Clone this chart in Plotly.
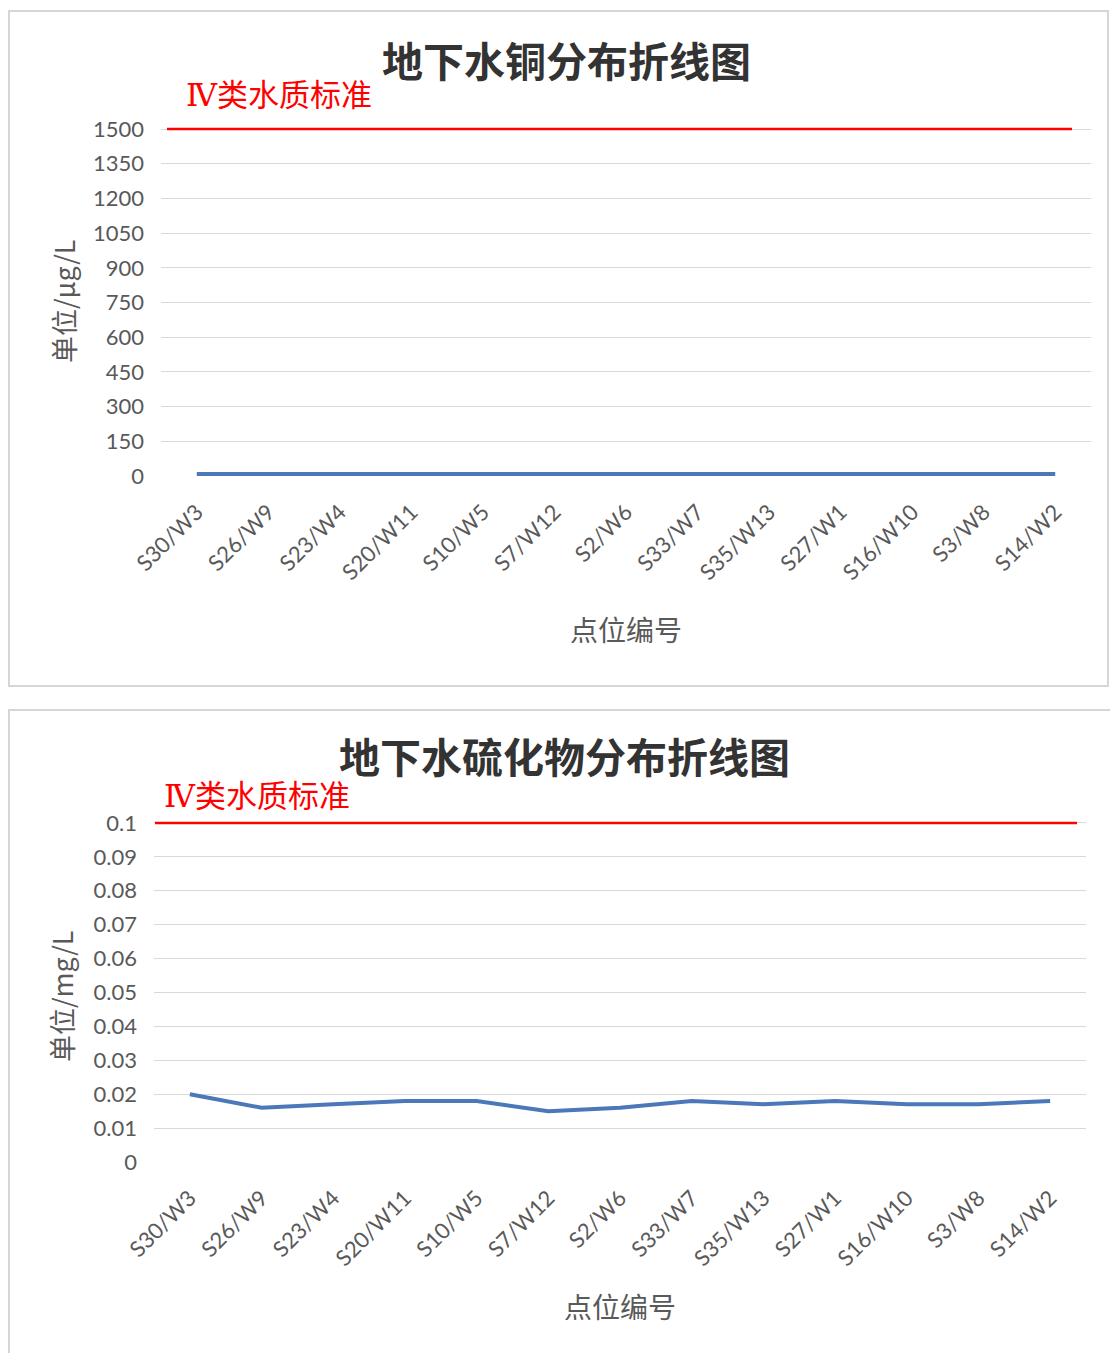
import plotly.graph_objects as go
from plotly.subplots import make_subplots

W, H = 1110, 1353

sites = ["S30/W3", "S26/W9", "S23/W4", "S20/W11", "S10/W5", "S7/W12", "S2/W6",
         "S33/W7", "S35/W13", "S27/W1", "S16/W10", "S3/W8", "S14/W2"]
copper = [9, 9, 9, 10, 10, 9, 10, 12, 11, 10, 10, 9, 9]
sulfide = [0.020, 0.016, 0.017, 0.018, 0.018, 0.015, 0.016, 0.018, 0.017, 0.018, 0.017, 0.017, 0.018]

copper_std = 1500
sulfide_std = 0.1
copper_ticks = [0, 150, 300, 450, 600, 750, 900, 1050, 1200, 1350, 1500]
sulfide_ticks = [0, 0.01, 0.02, 0.03, 0.04, 0.05, 0.06, 0.07, 0.08, 0.09, 0.1]
sulfide_ticktext = ["0", "0.01", "0.02", "0.03", "0.04", "0.05", "0.06", "0.07", "0.08", "0.09", "0.1"]

title1 = "地下水铜分布折线图"
title2 = "地下水硫化物分布折线图"
std_label = "Ⅳ类水质标准"
xlabel = "点位编号"
ylabel1 = "单位/μg/L"
ylabel2 = "单位/mg/L"


def fx(px):
    return px / W


def fy(py):
    return 1 - py / H


LINE = "#4a78b8"
GRID = "#d9d9d9"
TICK = "#595959"
RED = "#ff0000"
TICKFONT = dict(family="Lato, Open Sans, sans-serif", size=22, color=TICK)
CJK = "Noto Sans CJK SC"

fig = make_subplots(rows=2, cols=1)

fig.add_trace(go.Scatter(x=sites, y=copper, mode="lines",
                         line=dict(color=LINE, width=4), showlegend=False), row=1, col=1)
fig.add_trace(go.Scatter(x=sites, y=sulfide, mode="lines",
                         line=dict(color=LINE, width=4), showlegend=False), row=2, col=1)

common_x = dict(type="category", tickangle=-45, tickfont=TICKFONT, showgrid=False,
                showline=False, zeroline=False, ticks="", automargin=False,
                ticklabelstandoff=18, range=[-0.5, len(sites) - 0.5])
common_y = dict(tickfont=TICKFONT, gridcolor=GRID, gridwidth=1.3, zeroline=False,
                showline=False, ticks="", automargin=False, ticklabelstandoff=16)
# a little head-room above the standard line so it is not clipped at the plot edge
fig.update_layout(
    xaxis=dict(domain=[fx(161), fx(1091)], anchor="y", **common_x),
    xaxis2=dict(domain=[fx(154), fx(1086)], anchor="y2", **common_x),
    yaxis=dict(domain=[fy(476), fy(122.1)], anchor="x", range=[0, 1530],
               tickvals=copper_ticks, **common_y),
    yaxis2=dict(domain=[fy(1162), fy(816.2)], anchor="x2", range=[0, 0.102],
                tickvals=sulfide_ticks, ticktext=sulfide_ticktext, **common_y),
)

fig.add_shape(type="rect", xref="paper", yref="paper", x0=fx(9), x1=fx(1108), y0=fy(686), y1=fy(11),
              line=dict(color="#d6d6d6", width=2), layer="below")
fig.add_shape(type="rect", xref="paper", yref="paper", x0=fx(9), x1=fx(1112), y0=fy(1360), y1=fy(710),
              line=dict(color="#d6d6d6", width=2), layer="below")
fig.add_shape(type="line", xref="paper", yref="y", x0=fx(167), x1=fx(1072),
              y0=copper_std, y1=copper_std, line_color=RED, line_width=2.5, layer="above")
fig.add_shape(type="line", xref="paper", yref="y2", x0=fx(155), x1=fx(1077),
              y0=sulfide_std, y1=sulfide_std, line_color=RED, line_width=2.5, layer="above")


def note(text, x, y, size, color, family=CJK, angle=0, xanchor="center"):
    return dict(text=text, x=fx(x), y=fy(y), xref="paper", yref="paper",
                xanchor=xanchor, yanchor="middle", textangle=angle, showarrow=False,
                font=dict(family=family, size=size, color=color))


ann = [
    note(f"<b>{title1}</b>", 566, 59, 41, "#333333"),
    note(f"<b>{title2}</b>", 564, 755, 41, "#333333"),
    note(std_label, 184, 95, 31, RED, family="DejaVu Serif, " + CJK, xanchor="left"),
    note(std_label, 162, 796, 31, RED, family="DejaVu Serif, " + CJK, xanchor="left"),
    note(xlabel, 626, 629, 28, TICK),
    note(xlabel, 620, 1306, 28, TICK),
    note(ylabel1, 64, 302, 27, TICK, angle=-90),
    note(ylabel2, 62, 996, 27, TICK, angle=-90),
]

fig.update_layout(width=W, height=H, margin=dict(l=0, r=0, t=0, b=0, autoexpand=False),
                  paper_bgcolor="white", plot_bgcolor="white",
                  annotations=ann, showlegend=False)

fig.write_html("out.html", config={"displayModeBar": False},
               post_script="document.body.style.margin='0px';")
